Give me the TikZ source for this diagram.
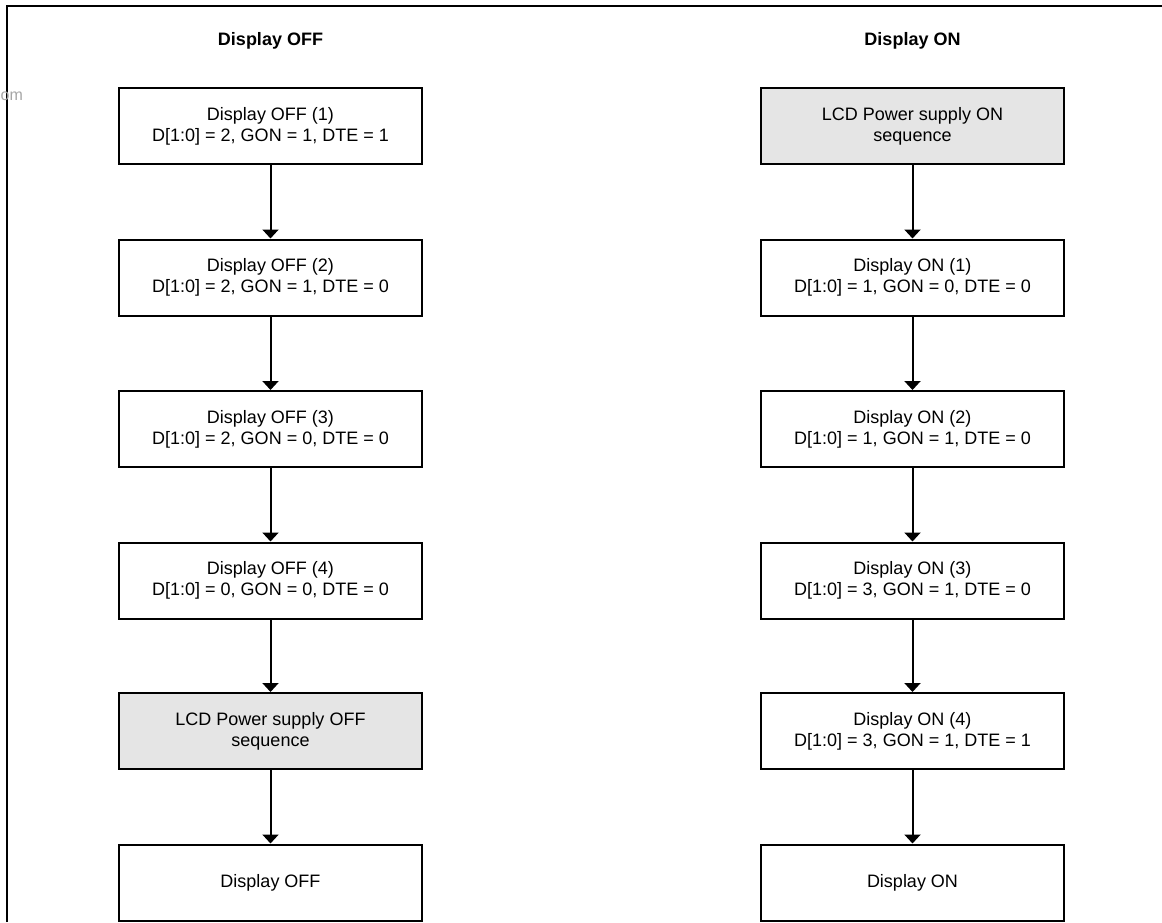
\documentclass[tikz,border=0pt]{standalone}
\usepackage{fontspec}
\setmainfont{Liberation Sans}
\usetikzlibrary{arrows.meta}
\begin{document}
\begin{tikzpicture}[x=1pt,y=-1pt,
  stepbox/.style={draw, line width=2pt, minimum width=303pt, minimum height=76pt, align=center, inner sep=0pt, font=\fontsize{18}{21}\selectfont},
  greybox/.style={stepbox, fill=black!10},
  coltitle/.style={font=\fontsize{18}{21}\selectfont\bfseries, anchor=base},
  arr/.style={line width=2pt, -{Triangle[width=16pt,length=9pt]}},
  frameline/.style={line width=2.2pt}]
\useasboundingbox (0,0) rectangle (1162,922);
\draw[frameline] (7,922) -- (7,6) -- (1162,6);
\node[text=black!35, font=\fontsize{16}{19}\selectfont, anchor=base west, inner sep=0pt] (wm) at (0.5,100) {om};
% titles
\node[coltitle] (toff) at (270.5,45) {Display OFF};
\node[coltitle] (ton) at (912.5,45) {Display ON};
% left column
\node[stepbox] (o1) at (270.5,126) {Display OFF (1)\\D[1:0] = 2, GON = 1, DTE = 1};
\node[stepbox] (o2) at (270.5,277.5) {Display OFF (2)\\D[1:0] = 2, GON = 1, DTE = 0};
\node[stepbox] (o3) at (270.5,429) {Display OFF (3)\\D[1:0] = 2, GON = 0, DTE = 0};
\node[stepbox] (o4) at (270.5,580.5) {Display OFF (4)\\D[1:0] = 0, GON = 0, DTE = 0};
\node[greybox] (o5) at (270.5,731) {LCD Power supply OFF\\sequence};
\node[stepbox] (o6) at (270.5,882.5) {Display OFF};
% right column
\node[greybox] (n1) at (912.5,126) {LCD Power supply ON\\sequence};
\node[stepbox] (n2) at (912.5,277.5) {Display ON (1)\\D[1:0] = 1, GON = 0, DTE = 0};
\node[stepbox] (n3) at (912.5,429) {Display ON (2)\\D[1:0] = 1, GON = 1, DTE = 0};
\node[stepbox] (n4) at (912.5,580.5) {Display ON (3)\\D[1:0] = 3, GON = 1, DTE = 0};
\node[stepbox] (n5) at (912.5,731) {Display ON (4)\\D[1:0] = 3, GON = 1, DTE = 1};
\node[stepbox] (n6) at (912.5,882.5) {Display ON};
% arrows
\foreach \a/\b in {o1/o2,o2/o3,o3/o4,o4/o5,o5/o6,n1/n2,n2/n3,n3/n4,n4/n5,n5/n6}
  \draw[arr] (\a.south) -- (\b.north);
\end{tikzpicture}
\end{document}
